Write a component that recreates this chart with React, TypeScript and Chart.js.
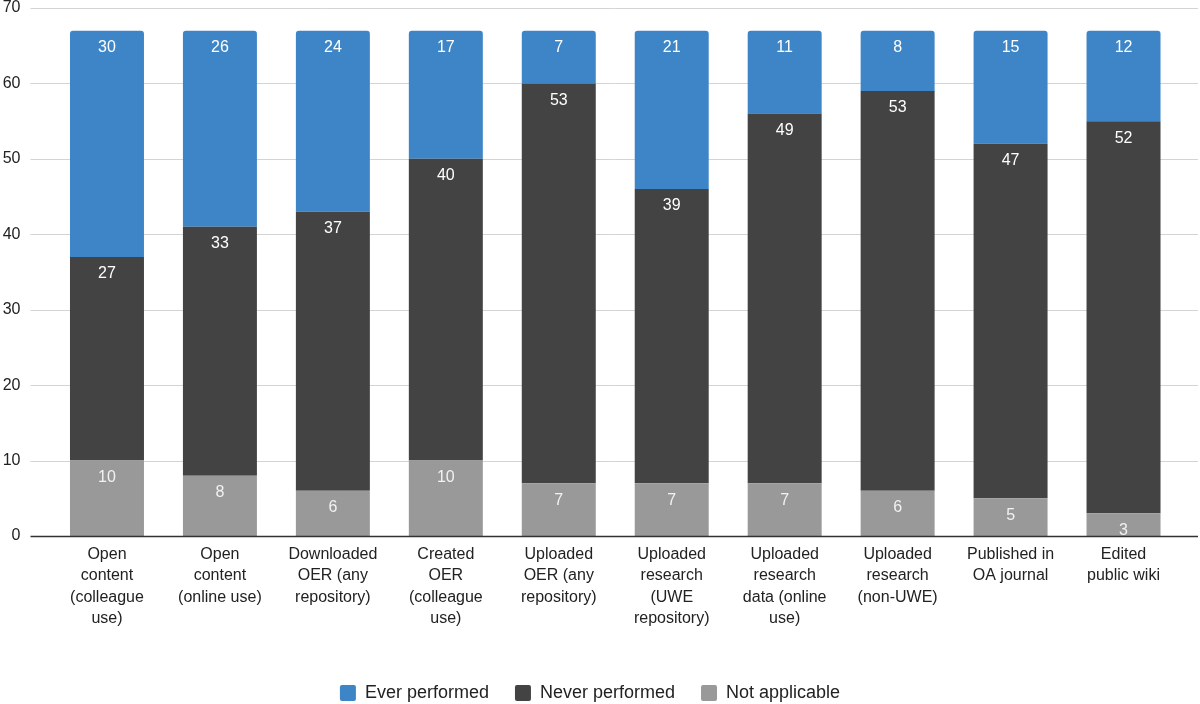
import { useEffect, useRef } from "react";
import { Chart, registerables } from "chart.js";

Chart.register(...registerables);

const CATEGORIES = [
  ["Open", "content", "(colleague", "use)"],
  ["Open", "content", "(online use)"],
  ["Downloaded", "OER (any", "repository)"],
  ["Created", "OER", "(colleague", "use)"],
  ["Uploaded", "OER (any", "repository)"],
  ["Uploaded", "research", "(UWE", "repository)"],
  ["Uploaded", "research", "data (online", "use)"],
  ["Uploaded", "research", "(non-UWE)"],
  ["Published in", "OA journal"],
  ["Edited", "public wiki"],
];

const NOT_APPLICABLE = [10, 8, 6, 10, 7, 7, 7, 6, 5, 3];
const NEVER_PERFORMED = [27, 33, 37, 40, 53, 39, 49, 53, 47, 52];
const EVER_PERFORMED = [30, 26, 24, 17, 7, 21, 11, 8, 15, 12];

const Y_TICKS = [0, 10, 20, 30, 40, 50, 60, 70];

const FONT = "Arial, 'Liberation Sans', sans-serif";

// Grid lines run a bit past the plot area, like the sheets export
const gridPlugin = {
  id: "wideGrid",
  beforeDatasetsDraw(chart: Chart) {
    const { ctx, chartArea, scales } = chart;
    const x0 = chartArea.left - 20;
    const x1 = chartArea.right + 18;
    ctx.save();
    ctx.lineWidth = 1;
    ctx.strokeStyle = "#d4d4d4";
    Y_TICKS.forEach((v) => {
      if (v === 0) return;
      const y = Math.round(scales.y.getPixelForValue(v)) + 0.5;
      ctx.beginPath();
      ctx.moveTo(x0, y);
      ctx.lineTo(x1, y);
      ctx.stroke();
    });
    ctx.restore();
  },
  afterDatasetsDraw(chart: Chart) {
    const { ctx, chartArea, scales } = chart;
    const y = Math.round(scales.y.getPixelForValue(0)) + 0.5;
    ctx.save();
    ctx.strokeStyle = "#333333";
    ctx.lineWidth = 1.5;
    ctx.beginPath();
    ctx.moveTo(chartArea.left - 20, y);
    ctx.lineTo(chartArea.right + 18, y);
    ctx.stroke();
    ctx.restore();
  },
};

// Value labels near the top of each segment
const valueLabelPlugin = {
  id: "valueLabels",
  afterDatasetsDraw(chart: Chart) {
    const { ctx } = chart;
    ctx.save();
    ctx.font = `16px ${FONT}`;
    ctx.textAlign = "center";
    ctx.textBaseline = "middle";
    chart.data.datasets.forEach((ds, di) => {
      const meta = chart.getDatasetMeta(di);
      ctx.fillStyle = di === 0 ? "#f2f2f2" : "#ffffff";
      meta.data.forEach((bar, i) => {
        const v = ds.data[i] as number;
        if (!v) return;
        ctx.fillText(String(v), bar.x, bar.y + 17);
      });
    });
    ctx.restore();
  },
};

export default function App() {
  const canvasRef = useRef<HTMLCanvasElement>(null);

  useEffect(() => {
    if (!canvasRef.current) return;
    document.body.style.margin = "0";

    const chart = new Chart(canvasRef.current, {
      type: "bar",
      data: {
        labels: CATEGORIES,
        datasets: [
          {
            label: "Not applicable",
            data: NOT_APPLICABLE,
            backgroundColor: "#999999",
            borderWidth: 0,
          },
          {
            label: "Never performed",
            data: NEVER_PERFORMED,
            backgroundColor: "#434343",
            borderWidth: 0,
          },
          {
            label: "Ever performed",
            data: EVER_PERFORMED,
            backgroundColor: "#3d85c6",
            borderWidth: 0,
            borderRadius: { topLeft: 3, topRight: 3, bottomLeft: 0, bottomRight: 0 },
            borderSkipped: false,
          },
        ],
      },
      options: {
        responsive: true,
        maintainAspectRatio: false,
        animation: false,
        datasets: {
          bar: { barPercentage: 0.655, categoryPercentage: 1 },
        },
        layout: { padding: { top: 0, right: 20, bottom: -8, left: 0 } },
        plugins: {
          tooltip: { enabled: false },
          legend: {
            position: "bottom",
            labels: {
              sort: (a, b) => (b.datasetIndex ?? 0) - (a.datasetIndex ?? 0),
              boxWidth: 16,
              boxHeight: 16,
              useBorderRadius: true,
              borderRadius: 2,
              padding: 26,
              color: "#222222",
              font: { family: FONT, size: 18 },
            },
          },
        },
        scales: {
          x: {
            stacked: true,
            grid: { display: false, drawTicks: false },
            border: { display: false },
            ticks: {
              color: "#222222",
              font: { family: FONT, size: 16, lineHeight: 1.33 },
              maxRotation: 0,
              minRotation: 0,
              autoSkip: false,
              padding: 8,
            },
            afterFit: (s) => {
              s.height = 122;
            },
          },
          y: {
            stacked: true,
            min: 0,
            max: 70,
            grid: { display: false, drawTicks: false },
            border: { display: false },
            ticks: {
              stepSize: 10,
              color: "#222222",
              font: { family: FONT, size: 16 },
              padding: 30,
            },
            afterFit: (s) => {
              s.width = 50.5;
              s.paddingTop = 8;
              s.paddingBottom = 0;
            },
          },
        },
      },
      plugins: [gridPlugin, valueLabelPlugin],
    });

    return () => chart.destroy();
  }, []);

  return (
    <div style={{ position: "fixed", inset: 0, background: "#ffffff" }}>
      <canvas ref={canvasRef} />
    </div>
  );
}
